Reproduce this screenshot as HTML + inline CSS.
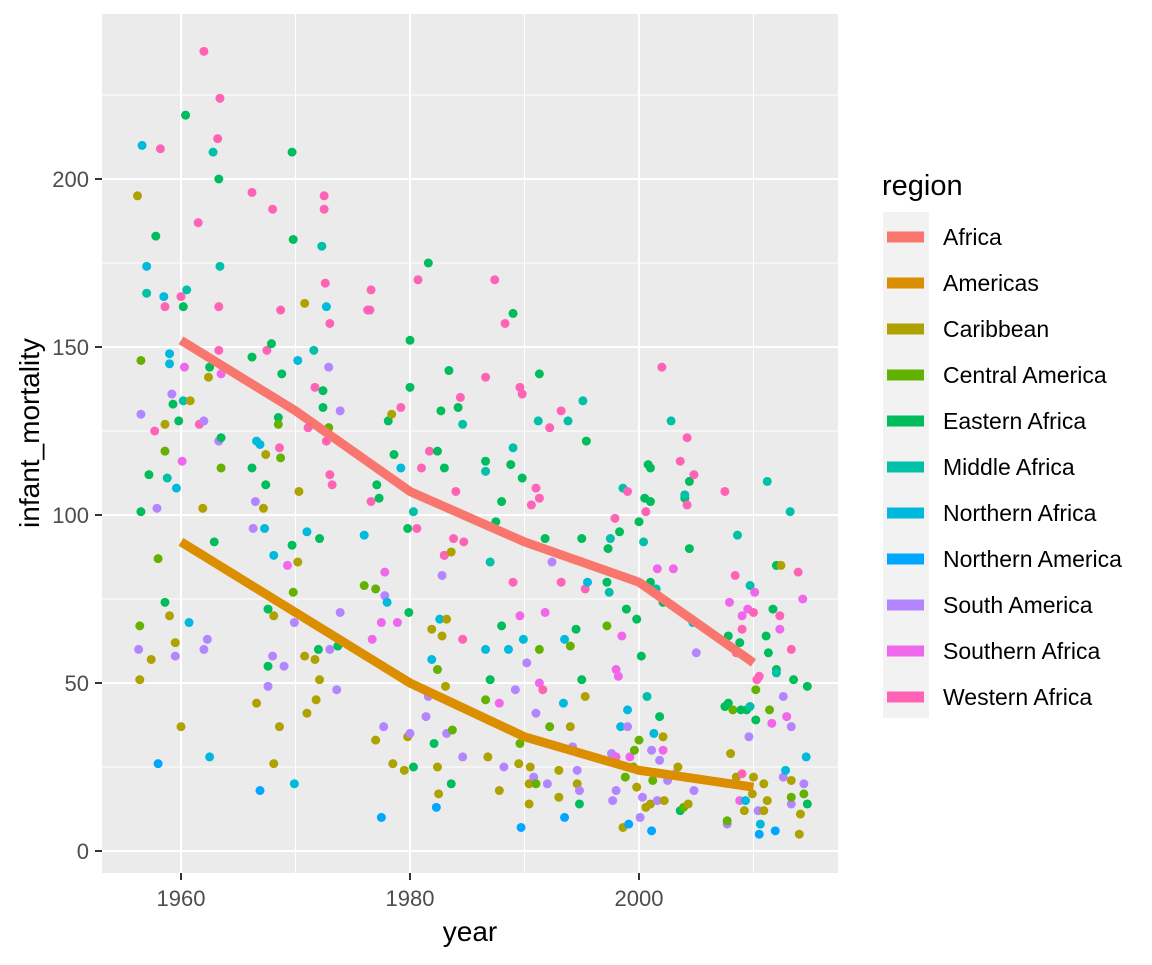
<!DOCTYPE html>
<html><head><meta charset="utf-8"><style>
html,body{margin:0;padding:0;background:#fff;}
svg text{font-family:"Liberation Sans",Arial,sans-serif;}
</style></head><body>
<svg id="chart" width="1152" height="960" xmlns="http://www.w3.org/2000/svg">
<rect x="102" y="14" width="736" height="859" fill="#EBEBEB"/>
<g id="grid"></g>
<g id="points"></g>
<g id="lines"></g>
<g id="axes"></g>
<g id="legend"></g>
<text x="470" y="941" font-size="28" text-anchor="middle" fill="#000">year</text>
<text transform="translate(39,433) rotate(-90)" font-size="28" text-anchor="middle" fill="#000">infant_mortality</text>
</svg>
<script>
const regionNames=["Africa","Americas","Caribbean","Central America","Eastern Africa","Middle Africa","Northern Africa","Northern America","South America","Southern Africa","Western Africa"];
const regionColors=["#F8766D","#DB8E00","#AEA200","#64B200","#00BD5C","#00C1A7","#00BADE","#00A6FF","#B385FF","#EF67EB","#FF63B6"];
const xTicks=[1960,1980,2000];
const yTicks=[0,50,100,150,200];
const lineYears=[1960,1970,1980,1990,2000,2010];
const africaTrend=[152,131,107,92,80,56];
const americasTrend=[92,71,50,34,24,19];
const scatterData=[
[1956.2,195,2],[1956.5,146,3],[1956.4,67,3],[1956.4,51,2],[1956.5,101,4],[1956.3,60,8],[1956.5,130,8],[1956.6,210,6],[1957,174,6],[1957,166,5],[1957.2,112,4],[1957.4,57,2],[1957.7,125,10],[1957.8,183,4],[1957.9,102,8],[1958,87,3],[1958,26,7],[1958.2,209,10],[1958.5,165,6],[1958.6,162,10],[1958.6,127,2],[1958.6,119,3],[1958.6,74,4],[1958.8,111,5],[1959,148,6],[1959,70,2],[1959,145,6],[1959.2,136,8],[1959.3,133,4],[1959.5,62,2],[1959.5,58,8],[1959.6,108,6],[1959.8,128,4],[1960,165,10],[1960,37,2],[1960.2,162,4],[1960.3,144,9],[1960.1,116,9],[1960.2,134,5],[1960.4,219,4],[1960.5,167,5],[1960.7,68,6],[1960.8,134,2],[1961.5,187,10],[1961.6,127,10],[1961.9,102,2],[1962,238,10],[1962,128,8],[1962,60,8],[1962.3,63,8],[1962.4,141,2],[1962.5,28,6],[1962.5,144,4],[1962.8,208,5],[1962.9,92,4],[1963.2,212,10],[1963.3,200,4],[1963.3,162,10],[1963.3,149,10],[1963.3,122,8],[1963.4,174,5],[1963.4,224,10],[1963.5,123,4],[1963.5,142,9],[1963.5,114,3],
[1966.2,196,10],[1966.2,147,4],[1966.2,114,4],[1966.3,96,8],[1966.5,104,8],[1966.6,44,2],[1966.6,122,6],[1966.9,121,6],[1966.9,18,7],[1967.2,102,2],[1967.3,96,6],[1967.4,118,2],[1967.4,109,4],[1967.5,149,10],[1967.6,55,4],[1967.6,72,4],[1967.6,49,8],[1967.9,151,4],[1968,191,10],[1968,58,8],[1968.1,70,2],[1968.1,88,6],[1968.1,26,2],[1968.5,129,4],[1968.5,127,3],[1968.7,161,10],[1968.7,117,3],[1968.8,142,4],[1968.6,120,10],[1968.6,37,2],[1969,55,8],[1969.3,85,9],[1969.7,208,4],[1969.8,182,4],[1969.7,91,4],[1969.8,77,3],[1969.9,68,8],[1969.9,20,6],[1970.2,86,2],[1970.2,146,6],[1970.3,107,2],[1970.8,163,2],[1970.8,58,2],[1971.1,126,10],[1971,95,6],[1971,41,2],[1971.6,149,5],[1971.7,138,10],[1971.7,57,2],[1971.8,45,2],[1972,60,4],[1972.1,93,4],[1972.1,51,2],[1972.3,180,5],[1972.4,132,4],[1972.4,137,4],[1972.5,195,10],[1972.5,191,10],[1972.6,169,10],[1972.7,162,6],[1972.7,122,10],[1972.9,144,8],[1972.9,126,3],[1973,157,10],[1973,112,10],[1973,60,8],[1973.2,109,10],[1973.6,48,8],[1973.7,61,4],[1973.9,131,8],[1973.9,71,8],
[1976,94,6],[1976,79,3],[1976.3,161,10],[1976.5,161,10],[1976.6,167,10],[1976.6,104,10],[1976.7,63,9],[1977,33,2],[1977,78,3],[1977.1,109,4],[1977.3,105,4],[1977.5,10,7],[1977.5,68,9],[1977.7,37,8],[1977.8,83,9],[1977.8,76,8],[1978,74,6],[1978.1,128,4],[1978.4,130,2],[1978.5,26,2],[1978.6,118,4],[1978.9,68,9],[1979.2,132,10],[1979.2,114,6],[1979.5,24,2],[1979.8,96,4],[1979.8,34,2],[1979.9,71,4],[1980,138,4],[1980,152,4],[1980,35,8],[1980.3,25,4],[1980.3,101,5],[1980.6,96,10],[1980.7,170,10],[1981,114,10],[1981.4,40,8],[1981.6,175,4],[1981.6,46,8],[1981.7,119,10],[1981.9,66,2],[1981.9,57,6],[1982.1,32,4],[1982.3,13,7],[1982.4,25,2],[1982.4,54,3],[1982.4,119,4],[1982.5,17,2],[1982.6,69,6],[1982.7,131,4],[1982.8,64,2],[1982.8,82,8],[1983,114,4],[1983,88,5],[1983,88,10],[1983.1,49,2],[1983.2,35,8],[1983.2,69,2],[1983.4,143,4],[1983.6,89,2],[1983.6,20,4],[1983.7,36,3],[1983.8,93,10],[1984,107,10],[1984.2,132,4],[1984.4,135,10],[1984.6,127,5],[1984.7,92,10],[1984.6,63,10],[1984.6,28,8],
[1986.6,141,10],[1986.6,116,4],[1986.6,113,5],[1986.6,45,3],[1986.6,60,6],[1986.8,28,2],[1987,86,5],[1987,51,4],[1987.4,170,10],[1987.5,98,4],[1987.8,44,9],[1987.8,18,2],[1988,104,4],[1988,67,4],[1988.2,25,8],[1988.3,157,10],[1988.6,60,6],[1988.8,115,4],[1989,160,4],[1989,120,5],[1989,80,10],[1989.2,48,8],[1989.6,138,10],[1989.5,26,2],[1989.6,32,3],[1989.7,7,7],[1989.6,70,9],[1989.8,111,4],[1989.8,136,10],[1989.9,63,6],[1990.2,56,8],[1990.4,14,2],[1990.4,20,2],[1990.5,25,2],[1990.6,103,10],[1990.8,22,8],[1991,41,8],[1991,108,10],[1991,20,3],[1991.2,128,5],[1991.3,142,4],[1991.3,60,3],[1991.3,50,9],[1991.3,105,10],[1991.6,48,10],[1991.8,93,4],[1991.8,71,9],[1992,20,8],[1992.2,37,3],[1992.2,126,10],[1992.4,86,8],[1993,24,2],[1993,16,2],[1993.2,131,10],[1993.2,80,10],[1993.4,44,6],[1993.5,63,6],[1993.5,10,7],[1993.8,128,5],[1994,37,2],[1994,61,3],[1994.2,31,8],[1994.5,66,4],[1994.6,24,8],[1994.6,20,2],[1994.8,14,4],[1994.8,18,8],[1995,93,4],[1995,51,4],[1995.1,134,5],[1995.3,46,2],[1995.3,78,10],[1995.4,122,4],[1995.5,80,6],
[1997.3,90,4],[1997.2,80,4],[1997.2,67,3],[1997.4,77,5],[1997.5,93,5],[1997.6,29,8],[1997.7,15,8],[1997.9,99,10],[1998,18,8],[1998,28,9],[1998,54,9],[1998.2,52,9],[1998.3,95,4],[1998.4,37,6],[1998.5,64,9],[1998.6,108,5],[1998.6,7,2],[1998.8,22,3],[1998.9,72,4],[1999,107,10],[1999,42,6],[1999,37,8],[1999.1,8,7],[1999.2,28,9],[1999.5,25,3],[1999.6,30,3],[1999.8,19,2],[1999.8,69,4],[2000,98,4],[2000,33,3],[2000.1,10,8],[2000.2,58,4],[2000.3,16,8],[2000.4,92,5],[2000.5,105,4],[2000.6,101,10],[2000.6,13,2],[2000.7,46,5],[2000.8,115,4],[2001,114,4],[2001,104,4],[2001,80,4],[2001,14,2],[2001.1,6,7],[2001.1,30,8],[2001.2,21,3],[2001.3,35,6],[2001.5,78,5],[2001.6,84,9],[2001.6,15,8],[2001.8,40,4],[2001.8,27,8],[2002,144,10],[2002.1,34,2],[2002.1,74,4],[2002.1,30,9],[2002.2,15,2],[2002.5,21,8],[2002.8,128,5],[2003,84,9],[2003.2,23,8],[2003.4,25,2],[2003.6,12,4],[2003.6,116,10],[2003.9,13,3],[2004,105,4],[2004,106,5],[2004.2,123,10],[2004.2,103,10],[2004.3,14,2],[2004.4,110,4],[2004.4,90,4],[2004.7,68,6],[2004.8,112,10],[2004.8,18,8],[2005,59,8],
[2007.5,43,4],[2007.5,107,10],[2007.7,8,8],[2007.7,9,3],[2007.8,44,4],[2007.8,64,4],[2007.9,74,9],[2008,29,2],[2008.2,42,3],[2008.4,82,10],[2008.5,22,2],[2008.5,59,10],[2008.6,94,5],[2008.8,15,9],[2008.8,62,4],[2008.9,42,4],[2009,70,9],[2009,66,10],[2009,23,10],[2009.2,12,2],[2009.3,15,6],[2009.4,42,4],[2009.5,72,9],[2009.6,34,8],[2009.7,43,5],[2009.7,79,5],[2009.9,17,2],[2010,71,10],[2010,22,2],[2010.1,77,9],[2010.2,48,3],[2010.2,39,4],[2010.3,51,10],[2010.4,12,8],[2010.5,5,7],[2010.5,52,10],[2010.6,8,6],[2010.9,20,2],[2010.9,12,2],[2011.1,64,4],[2011.2,110,5],[2011.2,15,2],[2011.3,59,4],[2011.4,42,3],[2011.6,38,9],[2011.7,72,4],[2011.9,6,7],[2012,85,4],[2012,54,4],[2012,53,5],[2012.3,70,10],[2012.3,66,9],[2012.4,85,2],[2012.6,22,8],[2012.6,46,8],[2012.8,24,6],[2012.9,40,9],[2013.2,101,5],[2013.3,37,8],[2013.3,21,2],[2013.3,60,10],[2013.3,14,8],[2013.3,16,3],[2013.5,51,4],[2013.9,83,10],[2014,5,2],[2014.1,11,2],[2014.3,75,9],[2014.4,20,8],[2014.4,17,3],[2014.6,28,6],[2014.7,49,4],[2014.7,14,4]
];
const NS="http://www.w3.org/2000/svg";
const xScale=v=>181+(v-1960)*(458/40);
const yScale=v=>851-v*(672/200);
function mk(tag,attrs,parent){const e=document.createElementNS(NS,tag);for(const k in attrs)e.setAttribute(k,attrs[k]);parent.appendChild(e);return e;}
const grid=document.getElementById('grid');
const xMinor=xTicks.map(t=>t+10);
const yMinor=yTicks.map(t=>t+25).slice(0,4).concat([225]);
xMinor.forEach(t=>{const l=mk('line',{x1:xScale(t),x2:xScale(t),y1:14,y2:873,stroke:'#fff','stroke-width':1},grid);

});
yMinor.forEach(t=>{const l=mk('line',{x1:102,x2:838,y1:yScale(t),y2:yScale(t),stroke:'#fff','stroke-width':1},grid);

});
xTicks.forEach(t=>{const l=mk('line',{x1:xScale(t),x2:xScale(t),y1:14,y2:873,stroke:'#fff','stroke-width':2},grid);

});
yTicks.forEach(t=>{const l=mk('line',{x1:102,x2:838,y1:yScale(t),y2:yScale(t),stroke:'#fff','stroke-width':2},grid);

});
const axes=document.getElementById('axes');
xTicks.forEach(t=>{const l=mk('line',{x1:xScale(t),x2:xScale(t),y1:873,y2:880,stroke:'#333','stroke-width':2},axes);


const tx=mk('text',{x:xScale(t),y:906,'font-size':22,'text-anchor':'middle',fill:'#4D4D4D'},axes);tx.textContent=t;

});
yTicks.forEach(t=>{const l=mk('line',{x1:95,x2:102,y1:yScale(t),y2:yScale(t),stroke:'#333','stroke-width':2},axes);


const tx=mk('text',{x:89,y:yScale(t)+8,'font-size':22,'text-anchor':'end',fill:'#4D4D4D'},axes);tx.textContent=t;

});
const pts=document.getElementById('points');
scatterData.forEach(d=>{const c=mk('circle',{cx:xScale(d[0]),cy:yScale(d[1]),r:4.5,fill:regionColors[d[2]]},pts);

});
const lines=document.getElementById('lines');
[[africaTrend,0,'africa-trend-line'],[americasTrend,1,'americas-trend-line']].forEach(([vals,ci,name])=>{
const p=mk('polyline',{points:lineYears.map((y,i)=>xScale(y)+','+yScale(vals[i])).join(' '),fill:'none',stroke:regionColors[ci],'stroke-width':9,'stroke-linejoin':'round'},lines);

});
const lg=document.getElementById('legend');
const lt=mk('text',{x:882,y:195,'font-size':29,fill:'#000'},lg);lt.textContent='region';


const bg=mk('rect',{x:883,y:212,width:46,height:506,fill:'#F2F2F2'},lg);


regionNames.forEach((n,i)=>{const cy=237+i*46;
const g=mk('g',{},lg);


mk('rect',{x:887,y:cy-5.5,width:37,height:11,fill:regionColors[i]},g);
const t=mk('text',{x:943,y:cy+8,'font-size':23,fill:'#000'},g);t.textContent=n;});
</script>
</body></html>
